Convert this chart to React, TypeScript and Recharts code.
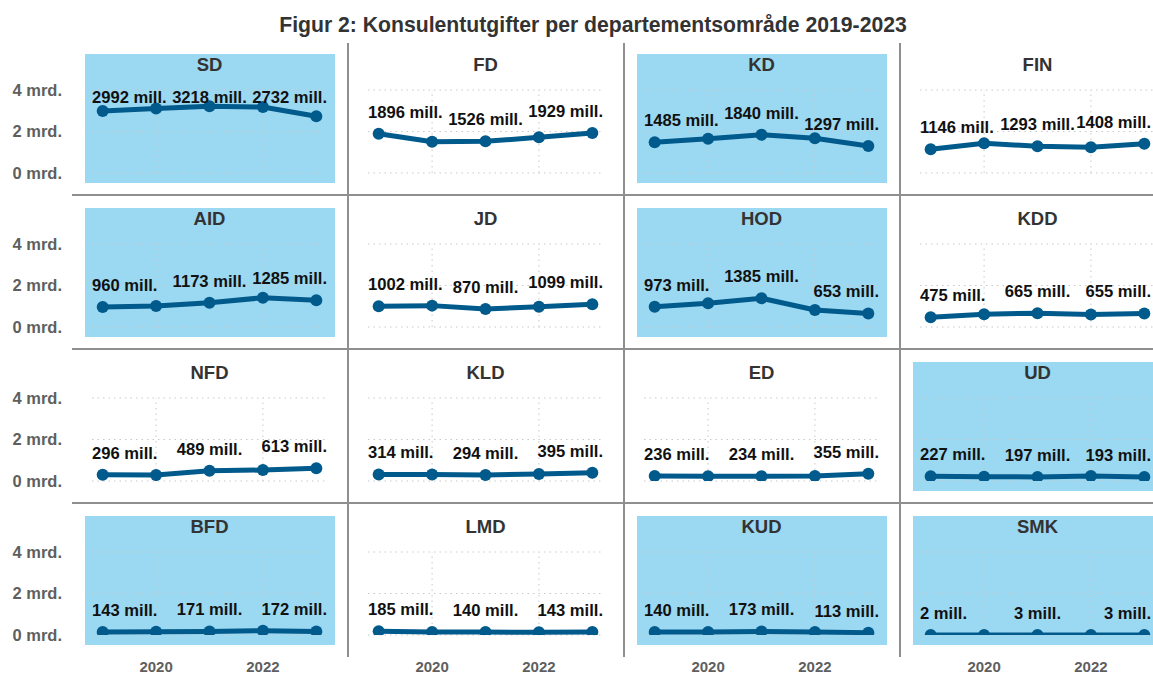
import { LineChart, Line, XAxis, YAxis, CartesianGrid, LabelList, ReferenceLine } from "recharts"

// years shown on the x axis, and the ones that get a value label
const years = [2019, 2020, 2021, 2022, 2023]
const labelYears = [2019, 2021, 2023]
const xTicks = [2020, 2022]
const yTicks = [0, 2000, 4000]
const yTickLabels = ["0 mrd.", "2 mrd.", "4 mrd."]

// departments in panel order (row by row), and the ones with a blue panel
const departments = ["SD", "FD", "KD", "FIN", "AID", "JD", "HOD", "KDD", "NFD", "KLD", "ED", "UD", "BFD", "LMD", "KUD", "SMK"]
const highlighted = ["SD", "KD", "AID", "HOD", "UD", "BFD", "KUD", "SMK"]

// consultant spend, mill. NOK, 2019-2023
const sd = [2992, 3110, 3218, 3180, 2732]
const fd = [1896, 1510, 1526, 1720, 1929]
const kd = [1485, 1650, 1840, 1670, 1297]
const fin = [1146, 1430, 1293, 1245, 1408]
const aid = [960, 1010, 1173, 1410, 1285]
const jd = [1002, 1030, 870, 980, 1099]
const hod = [973, 1140, 1385, 820, 653]
const kdd = [475, 620, 665, 600, 655]
const nfd = [296, 285, 489, 530, 613]
const kld = [314, 310, 294, 340, 395]
const ed = [236, 228, 234, 240, 355]
const ud = [227, 210, 197, 240, 193]
const bfd = [143, 160, 171, 210, 172]
const lmd = [185, 150, 140, 130, 143]
const kud = [140, 140, 173, 150, 113]
const smk = [2, 3, 3, 3, 3]

const seriesByDept: Record<string, number[]> = {
  SD: sd, FD: fd, KD: kd, FIN: fin, AID: aid, JD: jd, HOD: hod, KDD: kdd,
  NFD: nfd, KLD: kld, ED: ed, UD: ud, BFD: bfd, LMD: lmd, KUD: kud, SMK: smk,
}

const FONT = "'Liberation Sans', Arial, sans-serif"
const LINE = "#005a8c"
const PANEL_BG = "#9bd8f2"
const SEP = "#8f8f8f"
const GRID = "#c9c9c9"

// layout
const PAGE_W = 1153
const GRID_LEFT = 72
const COL_W = 276
const ROW_TOP = 41
const ROW_H = 154
const PLOT_L = 20 // plot left, from column start
const PLOT_R = 255
const PLOT_T = 49
const PLOT_B = 132
const LABEL_SIZE = 16.6

let ctx: CanvasRenderingContext2D | null = null
function textWidth(s: string) {
  if (!ctx) ctx = document.createElement("canvas").getContext("2d")
  if (!ctx) return s.length * 8
  ctx.font = `bold ${LABEL_SIZE}px ${FONT}`
  return ctx.measureText(s).width
}

function makeLabel(left: number, right: number, top: number) {
  return (props: any) => {
    const { value } = props
    if (value === null || value === undefined) return null
    const px = props.viewBox?.x ?? props.x
    const py = props.viewBox?.y ?? props.y
    const text = `${value} mill.`
    const w = textWidth(text)
    let cx = px
    if (cx - w / 2 < left) cx = left + w / 2
    if (cx + w / 2 > right) cx = right - w / 2
    const baseline = Math.max(py - 16, top + 13)
    return (
      <text x={cx} y={baseline} textAnchor="middle" fontFamily={FONT} fontWeight="bold" fontSize={LABEL_SIZE} fill="#111">
        {text}
      </text>
    )
  }
}

function Panel({ dept, idx }: { dept: string; idx: number }) {
  const col = idx % 4
  const row = Math.floor(idx / 4)
  const x0 = GRID_LEFT + col * COL_W
  const y0 = ROW_TOP + row * ROW_H
  const firstCol = col === 0
  const lastRow = row === 3
  const left = firstCol ? 0 : x0
  const width = firstCol ? COL_W + GRID_LEFT : COL_W
  const height = lastRow ? 676 - y0 : ROW_H
  const yAxisW = firstCol ? GRID_LEFT + PLOT_L : 0
  const vals = seriesByDept[dept]
  const data = years.map((year, i) => ({
    year,
    value: vals[i],
    label: labelYears.includes(year) ? vals[i] : null,
  }))
  const plotLeft = (firstCol ? GRID_LEFT : 0) + PLOT_L
  const plotRight = (firstCol ? GRID_LEFT : 0) + PLOT_R
  const labelRight = Math.min(plotRight, PAGE_W - 2 - left)

  return (
    <>
      {highlighted.includes(dept) && (
        <div style={{ position: "absolute", left: x0 + 13, top: y0 + 13, width: 250, height: 129, background: PANEL_BG }} />
      )}
      <div
        style={{
          position: "absolute", left: x0 + 31, width: 213, top: y0 + 13, textAlign: "center",
          fontFamily: FONT, fontWeight: "bold", fontSize: 18.5, color: "#333", lineHeight: "22px",
        }}
      >
        {dept}
      </div>
      <div style={{ position: "absolute", left, top: y0 }}>
        <LineChart
          width={width}
          height={height}
          data={data}
          margin={{ top: PLOT_T, right: width - plotRight, left: firstCol ? 0 : PLOT_L, bottom: lastRow ? height - PLOT_B - 22 : ROW_H - PLOT_B }}
        >
          <CartesianGrid stroke={GRID} strokeDasharray="1.5 4" vertical={false} />
          <XAxis
            dataKey="year"
            type="number"
            domain={[2018.8, 2023.2]}
            ticks={xTicks}
            hide={!lastRow}
            height={22}
            axisLine={false}
            tickLine={false}
            tickSize={0}
            tickMargin={26}
            tick={{ fill: "#5f5f5f", fontSize: 15, fontWeight: "bold", fontFamily: FONT }}
          />
          <YAxis
            type="number"
            domain={[0, 4000]}
            allowDataOverflow
            ticks={yTicks}
            hide={!firstCol}
            width={yAxisW}
            axisLine={false}
            tickLine={false}
            tickSize={0}
            tickMargin={30}
            tickFormatter={(v: number) => yTickLabels[yTicks.indexOf(v)]}
            tick={{ fill: "#5f5f5f", fontSize: 16.5, fontWeight: "bold", fontFamily: FONT }}
          />
          {xTicks.map((t) => (
            <ReferenceLine key={t} x={t} stroke={GRID} strokeDasharray="1.5 4" />
          ))}
          <Line
            type="linear"
            dataKey="value"
            stroke={LINE}
            strokeWidth={5}
            dot={{ r: 6, fill: LINE, stroke: LINE, strokeWidth: 0 }}
            activeDot={false}
            isAnimationActive={false}
          >
            <LabelList dataKey="label" content={makeLabel(plotLeft, labelRight, PLOT_T)} />
          </Line>
        </LineChart>
      </div>
    </>
  )
}

export default function App() {
  const hLines = [1, 2, 3].map((r) => ROW_TOP + r * ROW_H)
  const vLines = [1, 2, 3].map((c) => GRID_LEFT + c * COL_W - 1)
  return (
    <div
      style={{
        position: "absolute", left: 0, top: 0, width: PAGE_W, height: 676, overflow: "hidden",
        background: "#fff", fontFamily: FONT,
      }}
    >
      <div
        style={{
          position: "absolute", left: 0, width: 1186, top: 12, textAlign: "center",
          fontWeight: "bold", fontSize: 21.2, color: "#333", lineHeight: "26px",
        }}
      >
        Figur 2: Konsulentutgifter per departementsområde 2019-2023
      </div>
      {departments.map((d, i) => (
        <Panel key={d} dept={d} idx={i} />
      ))}
      {hLines.map((y) => (
        <div key={"h" + y} style={{ position: "absolute", left: GRID_LEFT, top: y - 1, width: PAGE_W - GRID_LEFT, height: 1.5, background: SEP }} />
      ))}
      {vLines.map((x) => (
        <div key={"v" + x} style={{ position: "absolute", left: x, top: 43, width: 1.5, height: 614, background: SEP }} />
      ))}
    </div>
  )
}
